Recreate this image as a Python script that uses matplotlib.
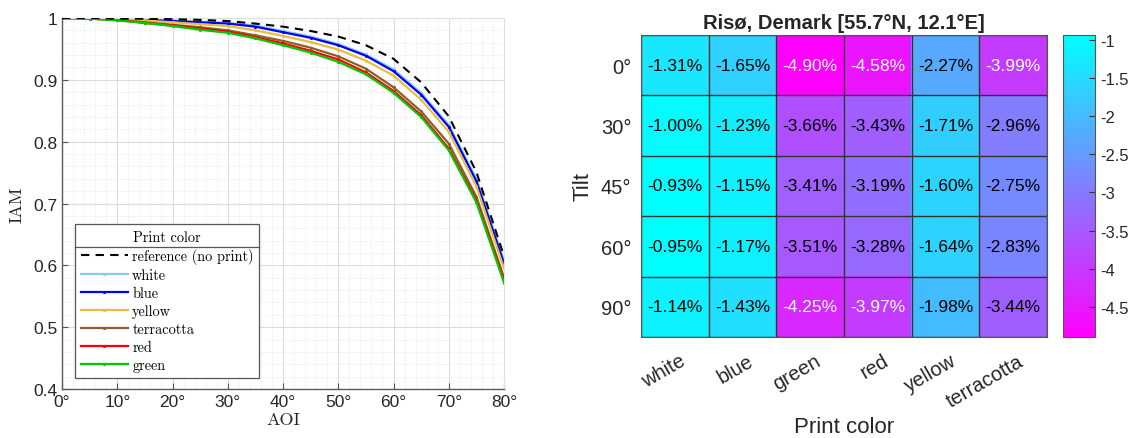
import matplotlib
matplotlib.use("Agg")
import matplotlib.pyplot as plt
import matplotlib.transforms as mtrans
import numpy as np
from matplotlib.lines import Line2D

# ---- left panel data: IAM vs AOI ----
aoi = [0, 5, 10, 15, 20, 25, 30, 35, 40, 45, 50, 55, 60, 65, 70, 75, 80]
iam_ref = [1.000, 1.000, 0.999, 0.999, 0.998, 0.997, 0.995, 0.991, 0.986, 0.979, 0.970, 0.956, 0.934, 0.896, 0.841, 0.751, 0.615]
iam_white = [1.000, 1.000, 0.999, 0.997, 0.996, 0.994, 0.992, 0.988, 0.979, 0.970, 0.958, 0.941, 0.917, 0.879, 0.827, 0.740, 0.607]
iam_blue = [1.000, 1.000, 0.998, 0.997, 0.995, 0.993, 0.991, 0.986, 0.977, 0.968, 0.956, 0.939, 0.914, 0.876, 0.824, 0.736, 0.603]
iam_yellow = [1.000, 0.999, 0.998, 0.996, 0.993, 0.990, 0.987, 0.980, 0.971, 0.961, 0.949, 0.931, 0.907, 0.868, 0.816, 0.728, 0.595]
iam_terracotta = [1.000, 0.999, 0.997, 0.993, 0.989, 0.985, 0.980, 0.972, 0.963, 0.952, 0.938, 0.918, 0.888, 0.849, 0.797, 0.711, 0.580]
iam_red = [1.000, 0.999, 0.997, 0.992, 0.988, 0.983, 0.978, 0.969, 0.959, 0.947, 0.933, 0.912, 0.882, 0.843, 0.789, 0.705, 0.577]
iam_green = [1.000, 0.999, 0.996, 0.992, 0.987, 0.981, 0.976, 0.967, 0.956, 0.944, 0.929, 0.909, 0.879, 0.840, 0.786, 0.702, 0.572]

series_names = ["white", "blue", "yellow", "terracotta", "red", "green"]
series_vals = [iam_white, iam_blue, iam_yellow, iam_terracotta, iam_red, iam_green]
series_cols = ["#87CEEB", "#0000FF", "#E6C03A", "#8C5F2D", "#FF0000", "#00C800"]

# ---- right panel data: heatmap ----
tilts = ["0°", "30°", "45°", "60°", "90°"]
prints = ["white", "blue", "green", "red", "yellow", "terracotta"]
loss = np.array([
    [-1.31, -1.65, -4.90, -4.58, -2.27, -3.99],
    [-1.00, -1.23, -3.66, -3.43, -1.71, -2.96],
    [-0.93, -1.15, -3.41, -3.19, -1.60, -2.75],
    [-0.95, -1.17, -3.51, -3.28, -1.64, -2.83],
    [-1.14, -1.43, -4.25, -3.97, -1.98, -3.44],
])
cbar_ticks = [-1, -1.5, -2, -2.5, -3, -3.5, -4, -4.5]

DPI = 100
W, H = 1140, 439
fig = plt.figure(figsize=(W / DPI, H / DPI), dpi=DPI)

def px_axes(l, t, r, b):
    return fig.add_axes([l / W, 1 - b / H, (r - l) / W, (b - t) / H])

dark = "#262626"
sans = "Liberation Sans"
serif = "cmr10"

# ---------------- left: IAM curves ----------------
ax = px_axes(62, 19, 504, 390)
ax.plot(aoi, iam_ref, color="black", linestyle=(0, (4, 3)), linewidth=1.5,
        label="reference (no print)", zorder=5)
for name, vals, col in zip(series_names, series_vals, series_cols):
    ax.plot(aoi, vals, color=col, linewidth=1.6, marker=".", markersize=2.5,
            label=name)
ax.set_xlim(0, 80)
ax.set_ylim(0.4, 1.0)
ax.set_xticks(np.arange(0, 81, 10))
ax.set_xticklabels([f"{v}°" for v in range(0, 81, 10)])
ax.set_yticks([0.4, 0.5, 0.6, 0.7, 0.8, 0.9, 1.0])
ax.set_yticklabels(["0.4", "0.5", "0.6", "0.7", "0.8", "0.9", "1"])
ax.set_xticks(np.arange(0, 81, 2), minor=True)
ax.set_yticks(np.arange(0.4, 1.001, 0.02), minor=True)
ax.grid(which="major", color="#dcdcdc", linewidth=0.8)
ax.grid(which="minor", color="#e2e2e2", linewidth=0.6, linestyle=":")
ax.set_axisbelow(True)
ax.tick_params(which="major", direction="in", length=4, color="#555555",
               labelsize=12.5, labelcolor=dark, top=False, right=False)
ax.tick_params(which="minor", length=0)
for lab in ax.get_xticklabels() + ax.get_yticklabels():
    lab.set_fontfamily(sans)
for s in ["left", "bottom"]:
    ax.spines[s].set_color("#5a5a5a")
    ax.spines[s].set_linewidth(1.0)
for s in ["top", "right"]:
    ax.spines[s].set_color("#e0e0e0")
ax.set_xlabel("AOI", fontfamily=serif, fontsize=13, color=dark, labelpad=2)
ax.set_ylabel("IAM", fontfamily=serif, fontsize=13, color=dark, labelpad=6)

leg = ax.legend(loc="lower left", bbox_to_anchor=(13 / 442, 11 / 371),
                title="Print color", prop={"family": serif, "size": 10.3},
                title_fontproperties={"family": serif, "size": 10.3},
                frameon=True, fancybox=False, edgecolor="#555555",
                framealpha=1, handlelength=3.3, handletextpad=0.3,
                labelspacing=0.3, borderpad=0.4, borderaxespad=0)
leg.get_frame().set_linewidth(0.9)

# ---------------- right: heatmap ----------------
hx = px_axes(641, 36, 1047, 338)
im = hx.imshow(loss, cmap="cool_r", vmin=-4.90, vmax=-0.93, aspect="auto")
nr, nc = loss.shape
for i in range(nr + 1):
    hx.axhline(i - 0.5, color="#333333", linewidth=1.0)
for j in range(nc + 1):
    hx.axvline(j - 0.5, color="#333333", linewidth=1.0)
for i in range(nr):
    for j in range(nc):
        v = loss[i, j]
        hx.text(j, i, f"{v:.2f}%", ha="center", va="center",
                fontsize=12.5, fontfamily=sans,
                color="white" if v < -3.9 else "black")
hx.set_xticks([])
hx.set_yticks(range(nr))
hx.set_yticklabels(tilts)
hx.tick_params(axis="y", length=0, pad=7, labelsize=14.5, labelcolor=dark)
for lab in hx.get_yticklabels():
    lab.set_fontfamily(sans)
for s in hx.spines.values():
    s.set_color("#555555")
# rotated column labels
for j, name in enumerate(prints):
    tr = mtrans.blended_transform_factory(
        hx.transData + mtrans.ScaledTranslation(9 / DPI, 0, fig.dpi_scale_trans),
        hx.transAxes + mtrans.ScaledTranslation(0, -22 / DPI, fig.dpi_scale_trans))
    hx.text(j, 0, name, transform=tr, rotation=30, rotation_mode="anchor",
            ha="right", va="center", fontsize=14.5, fontfamily=sans, color=dark)
hx.set_title("Risø, Demark [55.7°N, 12.1°E]", fontsize=14.5, fontweight="bold",
             fontfamily=sans, color=dark, pad=5)
fig.text(844 / W, 1 - 428 / H, "Print color", ha="center", va="center",
         fontsize=16, fontfamily=sans, color=dark)
fig.text(583 / W, 1 - 187 / H, "Tilt", ha="center", va="center", rotation=90,
         fontsize=16, fontfamily=sans, color=dark)

cax = px_axes(1063, 36, 1095, 338)
cb = fig.colorbar(im, cax=cax)
cb.set_ticks(cbar_ticks)
cb.set_ticklabels([f"{t:g}" for t in cbar_ticks])
cax.tick_params(direction="in", length=4, color="#333333", labelsize=12,
                labelcolor=dark)
for lab in cax.get_yticklabels():
    lab.set_fontfamily(sans)
cb.outline.set_edgecolor("#555555")

# separator line under the legend title
fig.canvas.draw()
r = fig.canvas.get_renderer()
fb = leg.get_frame().get_window_extent(r)
tb = leg.get_title().get_window_extent(r)
ysep = tb.y0 - 3
fig.add_artist(Line2D([fb.x0 / W, fb.x1 / W], [ysep / H, ysep / H],
                      color="#555555", linewidth=0.9))

fig.savefig("out.png", dpi=DPI)
